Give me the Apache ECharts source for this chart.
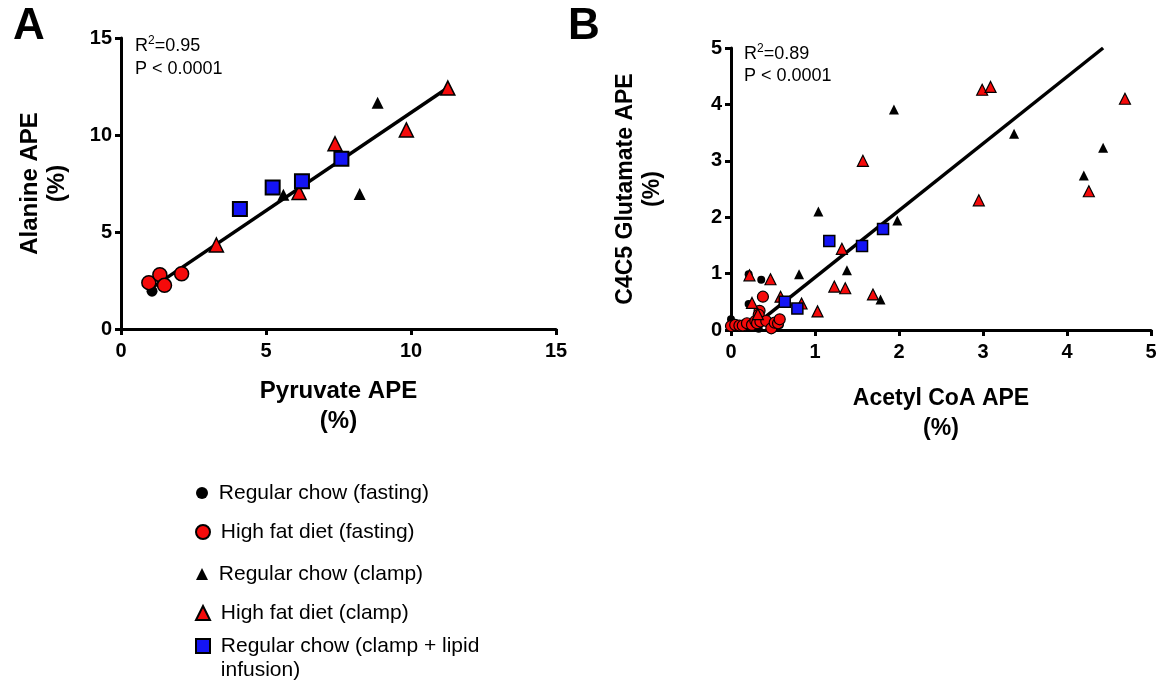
<!DOCTYPE html>
<html>
<head>
<meta charset="utf-8">
<script src="https://cdn.jsdelivr.net/npm/echarts@6/dist/echarts.min.js"></script>
<style>
  html, body { margin: 0; padding: 0; background: #fff; }
  #chart { width: 1163px; height: 685px; }
</style>
</head>
<body>
<div id="chart"></div>
<script>
// series names (shared by both panels)
const seriesNames = [
  "Regular chow (fasting)",
  "High fat diet (fasting)",
  "Regular chow (clamp)",
  "High fat diet (clamp)",
  "Regular chow (clamp + lipid\ninfusion)"
];

// panel A: pyruvate APE (x) vs alanine APE (y), %
const rcFastA = [[1.07, 1.95]];
const hfFastA = [[0.96, 2.39], [1.34, 2.80], [1.50, 2.25], [2.09, 2.85]];
const rcClampA = [[5.60, 6.92], [8.23, 6.96], [8.85, 11.66]];
const hfClampA = [[3.29, 4.33], [6.14, 7.04], [7.38, 9.55], [9.84, 10.26], [11.27, 12.42]];
const lipidA = [[4.10, 6.18], [5.23, 7.30], [6.24, 7.61], [7.60, 8.77]];
const fitA = [1.01, 1.05];        // slope, intercept
const fitRangeA = [1.1, 11.27];
const statsA = ["0.95", "P < 0.0001"];

// panel B: acetyl CoA APE (x) vs C4C5 glutamate APE (y), %
const rcFastB = [[0.0, 0.19], [0.21, 0.99], [0.36, 0.89], [0.21, 0.46], [0.33, 0.02], [0.58, 0.09], [0.05, 0.05]];
const hfFastB = [[0.38, 0.59], [0.34, 0.34], [0.33, 0.27], [0.0, 0.07], [0.05, 0.09], [0.10, 0.08],
  [0.14, 0.08], [0.19, 0.12], [0.25, 0.09], [0.29, 0.16], [0.31, 0.12], [0.35, 0.15], [0.42, 0.16],
  [0.48, 0.03], [0.52, 0.13], [0.56, 0.12], [0.58, 0.19]];
const rcClampB = [[1.94, 3.91], [1.04, 2.10], [3.37, 3.48], [4.43, 3.23], [4.20, 2.74], [1.98, 1.94],
  [0.81, 0.99], [1.38, 1.06], [1.78, 0.54], [0.67, 0.52]];
const hfClampB = [[2.99, 4.26], [3.09, 4.31], [4.69, 4.10], [1.57, 3.00], [2.95, 2.30], [4.26, 2.46],
  [1.32, 1.44], [1.23, 0.77], [1.36, 0.74], [1.69, 0.63], [1.03, 0.33], [0.84, 0.47], [0.22, 0.97],
  [0.47, 0.90], [0.59, 0.59], [0.25, 0.48], [0.32, 0.28]];
const lipidB = [[1.17, 1.58], [1.56, 1.49], [1.81, 1.79], [0.64, 0.50], [0.79, 0.38]];
const fitB = [1.186, -0.254];
const fitRangeB = [0.29, 4.43];
const statsB = ["0.89", "P < 0.0001"];

// axes
const ticksA = [0, 15, 5];   // min, max, interval
const ticksB = [0, 5, 1];

const FONT = "'Liberation Sans', Arial, Helvetica, sans-serif";
const RED = "#f50a0a";
const BLUE = "#1414f5";

const chart = echarts.init(document.getElementById("chart"));

const fitLine = (fit, range, idx) => ({
  type: "line",
  xAxisIndex: idx, yAxisIndex: idx,
  data: range.map(x => [x, fit[0] * x + fit[1]]),
  symbol: "none", silent: true, z: 1,
  lineStyle: {color: "#000", width: 3.5}
});

const scatter = (name, data, idx, symbol, size, color, border) => ({
  name, type: "scatter", data,
  xAxisIndex: idx, yAxisIndex: idx,
  symbol, symbolSize: size, z: 2,
  itemStyle: {color, borderColor: "#000", borderWidth: border, opacity: 1},
  emphasis: {disabled: true}
});

const xAxis = (idx, t, name, nameGap, nameSize) => ({
  type: "value", gridIndex: idx, min: t[0], max: t[1], interval: t[2],
  name, nameLocation: "middle", nameGap,
  nameTextStyle: {fontFamily: FONT, fontSize: nameSize, fontWeight: "bold", color: "#000", lineHeight: 30},
  axisLine: {lineStyle: {color: "#000", width: 3}},
  axisTick: {length: 6, lineStyle: {color: "#000", width: 3}},
  axisLabel: {fontFamily: FONT, fontSize: 20, fontWeight: "bold", color: "#000", margin: 12},
  splitLine: {show: false}
});

const yAxis = (idx, t, name, nameGap, nameSize) => ({
  type: "value", gridIndex: idx, min: t[0], max: t[1], interval: t[2],
  name, nameLocation: "middle", nameGap,
  nameTextStyle: {fontFamily: FONT, fontSize: nameSize, fontWeight: "bold", color: "#000", lineHeight: 27},
  axisLine: {lineStyle: {color: "#000", width: 3}},
  axisTick: {length: 6, lineStyle: {color: "#000", width: 3}},
  axisLabel: {fontFamily: FONT, fontSize: 20, fontWeight: "bold", color: "#000", margin: 9},
  splitLine: {show: false}
});

// one legend per row so the uneven row spacing of the figure can be kept
const legendRow = (name, top, size) => ({
  data: [name], left: 202 - size / 2, top, padding: 0,
  itemWidth: size, itemHeight: size, symbolKeepAspect: true,
  selectedMode: false,
  formatter: n => (n.indexOf("\n") >= 0 ? "\n " : " ") + n.replace("\n", "\n "),
  textStyle: {fontFamily: FONT, fontSize: 21, color: "#000", lineHeight: 24}
});

const statsTitle = (s, left, top, lh) => ({
  text: "{r|R}{s|2}{r|=" + s[0] + "}\n{r|" + s[1] + "}",
  left, top, padding: 0,
  textStyle: {
    fontWeight: "normal",
    rich: {
      r: {fontFamily: FONT, fontSize: 18, fontWeight: "normal", color: "#000", lineHeight: lh},
      s: {fontFamily: FONT, fontSize: 12, fontWeight: "normal", color: "#000", lineHeight: 13, verticalAlign: "top"}
    }
  }
});

chart.setOption({
  animation: false,
  backgroundColor: "#fff",
  title: [
    {text: "A", left: 8, top: 0, textStyle: {fontFamily: FONT, fontSize: 44, fontWeight: "bold", color: "#000"}},
    {text: "B", left: 563, top: 0, textStyle: {fontFamily: FONT, fontSize: 44, fontWeight: "bold", color: "#000"}},
    statsTitle(statsA, 135, 35, 23),
    statsTitle(statsB, 744, 43, 22)
  ],
  grid: [
    {left: 121, top: 38, width: 435, height: 291},
    {left: 731, top: 48, width: 420, height: 282}
  ],
  xAxis: [
    xAxis(0, ticksA, "Pyruvate APE\n(%)", 47, 24),
    xAxis(1, ticksB, "Acetyl CoA APE\n(%)", 54, 23)
  ],
  yAxis: [
    yAxis(0, ticksA, "Alanine APE\n(%)", 50, 24),
    yAxis(1, ticksB, "C4C5 Glutamate APE\n(%)", 65, 23)
  ],
  legend: [
    legendRow(seriesNames[0], 481, 12),
    legendRow(seriesNames[1], 520, 14),
    legendRow(seriesNames[2], 562, 12),
    legendRow(seriesNames[3], 601, 14),
    legendRow(seriesNames[4], 610, 14)
  ],
  series: [
    fitLine(fitA, fitRangeA, 0),
    scatter(seriesNames[0], rcFastA, 0, "circle", 11, "#000", 0),
    scatter(seriesNames[1], hfFastA, 0, "circle", 14, RED, 1.5),
    scatter(seriesNames[2], rcClampA, 0, "triangle", 12, "#000", 0),
    scatter(seriesNames[3], hfClampA, 0, "triangle", 14, RED, 1.5),
    scatter(seriesNames[4], lipidA, 0, "rect", 14, BLUE, 2),
    fitLine(fitB, fitRangeB, 1),
    scatter(seriesNames[0], rcFastB, 1, "circle", 8, "#000", 0),
    scatter(seriesNames[1], hfFastB, 1, "circle", 11, RED, 1.2),
    scatter(seriesNames[2], rcClampB, 1, "triangle", 10, "#000", 0),
    scatter(seriesNames[3], hfClampB, 1, "triangle", 11, RED, 1.2),
    scatter(seriesNames[4], lipidB, 1, "rect", 11, BLUE, 1.5)
  ]
});
</script>
</body>
</html>
